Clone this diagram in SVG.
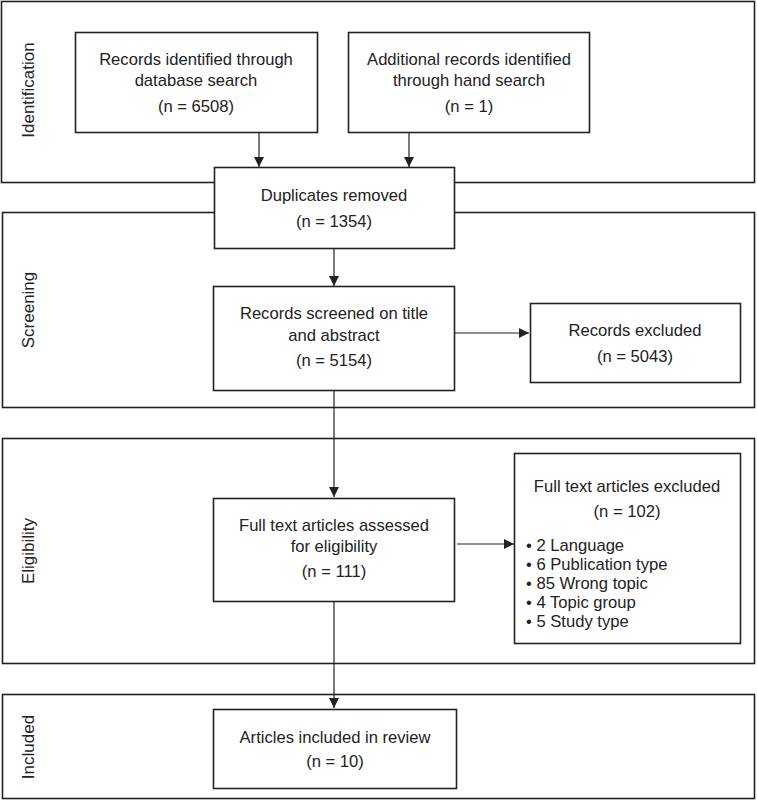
<svg xmlns="http://www.w3.org/2000/svg" width="757" height="800" viewBox="0 0 757 800">
<style>
.sec{fill:none;stroke:#222;stroke-width:1.6}
.box{fill:#fff;stroke:#222;stroke-width:1.6}
.t{font-family:"Liberation Sans",Arial,sans-serif;font-size:16.6px;fill:#222;text-anchor:middle}
.l{text-anchor:start}
.lab{font-family:"Liberation Sans",Arial,sans-serif;font-size:17px;fill:#222;text-anchor:middle}
.c{stroke:#222;stroke-width:1.2;fill:none}
</style>
<defs>
<marker id="ah" viewBox="0 0 10 10" refX="10" refY="5" markerWidth="10" markerHeight="10" markerUnits="userSpaceOnUse" orient="auto">
<path d="M0,0 L10,5 L0,10 Z" fill="#222"/>
</marker>
</defs>
<g id="sections">
<rect class="sec" x="1.5" y="1.5" width="753" height="181"/>
<rect class="sec" x="2.5" y="212.5" width="752" height="195"/>
<rect class="sec" x="2.5" y="438.5" width="752" height="225"/>
<rect class="sec" x="2.5" y="694.5" width="752" height="104"/>
<text class="lab" transform="translate(34,90) rotate(-90)">Identification</text>
<text class="lab" transform="translate(34,310) rotate(-90)">Screening</text>
<text class="lab" transform="translate(34,551) rotate(-90)">Eligibility</text>
<text class="lab" transform="translate(34,747) rotate(-90)">Included</text>
</g>
<g id="connectors">
<line class="c" x1="259" y1="133" x2="259" y2="167" marker-end="url(#ah)"/>
<line class="c" x1="409" y1="133" x2="409" y2="167" marker-end="url(#ah)"/>
<line class="c" x1="334" y1="248" x2="334" y2="286" marker-end="url(#ah)"/>
<line class="c" x1="455" y1="333" x2="529" y2="333" marker-end="url(#ah)"/>
<line class="c" x1="334" y1="390" x2="334" y2="497" marker-end="url(#ah)"/>
<line class="c" x1="457" y1="544" x2="514" y2="544" marker-end="url(#ah)"/>
<line class="c" x1="334" y1="601" x2="334" y2="708" marker-end="url(#ah)"/>
</g>
<g id="n1">
<rect class="box" x="75.5" y="32.5" width="242" height="100"/>
<text class="t" x="196" y="65">Records identified through</text>
<text class="t" x="196" y="86">database search</text>
<text class="t" x="196" y="112">(n = 6508)</text>
</g>
<g id="n2">
<rect class="box" x="348.5" y="32.5" width="241" height="100"/>
<text class="t" x="469" y="65">Additional records identified</text>
<text class="t" x="469" y="86">through hand search</text>
<text class="t" x="469" y="112">(n = 1)</text>
</g>
<g id="n3">
<rect class="box" x="214.5" y="167.5" width="240" height="81"/>
<text class="t" x="334" y="201">Duplicates removed</text>
<text class="t" x="334" y="227">(n = 1354)</text>
</g>
<g id="n4">
<rect class="box" x="213.5" y="286.5" width="241" height="104"/>
<text class="t" x="334" y="319">Records screened on title</text>
<text class="t" x="334" y="341">and abstract</text>
<text class="t" x="334" y="366">(n = 5154)</text>
</g>
<g id="n5">
<rect class="box" x="530.5" y="303.5" width="210" height="79"/>
<text class="t" x="635" y="336">Records excluded</text>
<text class="t" x="635" y="362">(n = 5043)</text>
</g>
<g id="n6">
<rect class="box" x="213.5" y="498.5" width="241" height="103"/>
<text class="t" x="334" y="531">Full text articles assessed</text>
<text class="t" x="334" y="552">for eligibility</text>
<text class="t" x="334" y="577">(n = 111)</text>
</g>
<g id="n7">
<rect class="box" x="514.5" y="453.5" width="226" height="190"/>
<text class="t" x="627" y="492">Full text articles excluded</text>
<text class="t" x="627" y="517">(n = 102)</text>
<text class="t l" x="526" y="551">• 2 Language</text>
<text class="t l" x="526" y="570">• 6 Publication type</text>
<text class="t l" x="526" y="589">• 85 Wrong topic</text>
<text class="t l" x="526" y="608">• 4 Topic group</text>
<text class="t l" x="526" y="627">• 5 Study type</text>
</g>
<g id="n8">
<rect class="box" x="213.5" y="709.5" width="243" height="79"/>
<text class="t" x="335" y="743">Articles included in review</text>
<text class="t" x="335" y="767">(n = 10)</text>
</g>
</svg>
